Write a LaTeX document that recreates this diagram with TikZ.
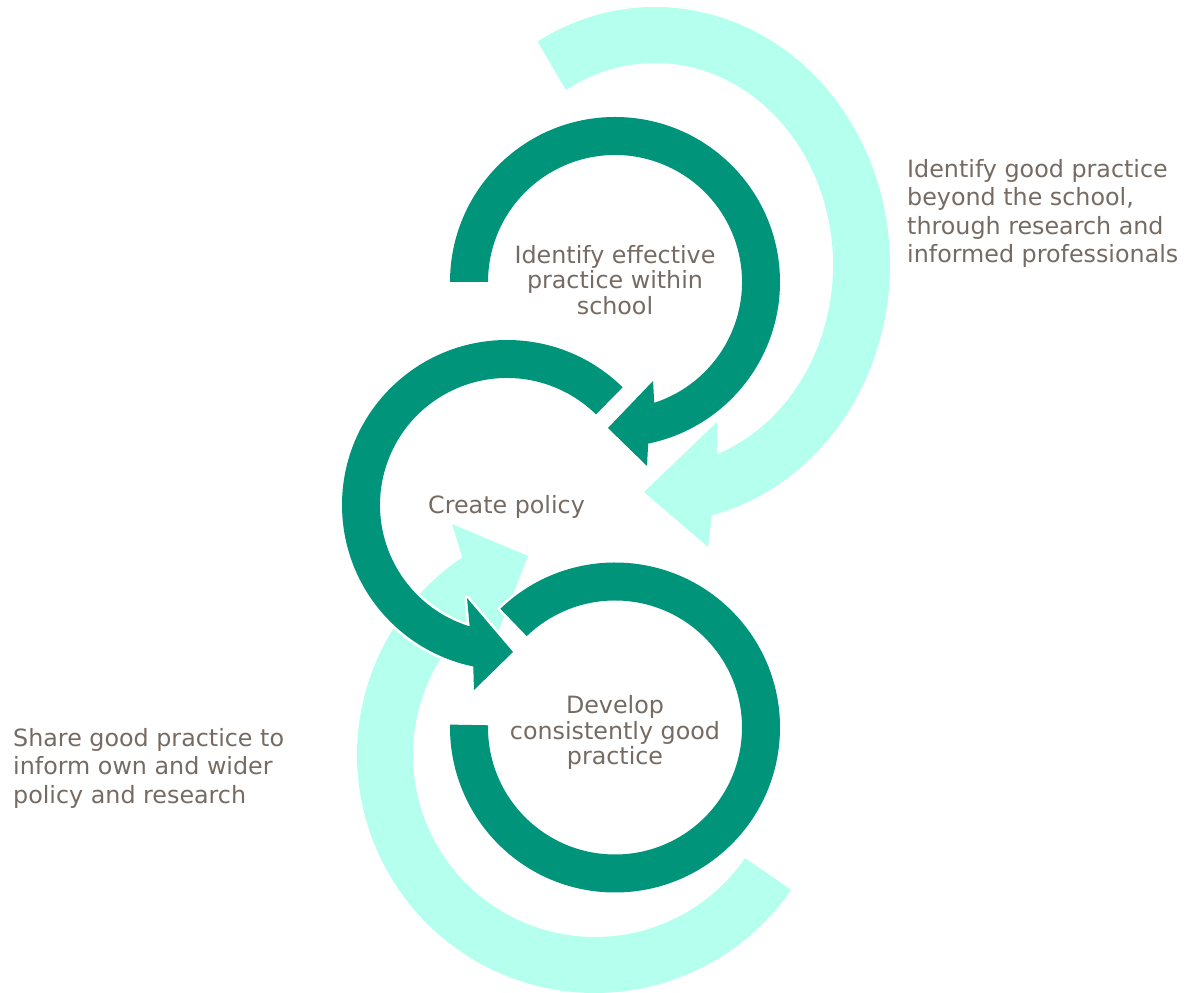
\documentclass[tikz,border=0pt]{standalone}
\usepackage{fontspec}
\setmainfont{DejaVu Sans}
\definecolor{darkteal}{RGB}{0,148,122}
\definecolor{paleteal}{RGB}{181,255,239}
\definecolor{labelgrey}{RGB}{118,107,99}

\begin{document}
\begin{tikzpicture}[x=1pt, y=1pt,
    loop/.style={fill=darkteal, preaction={draw=white, line width=5pt, line join=round}},
    wide/.style={fill=paleteal},
    inlabel/.style={text=labelgrey, align=center, inner sep=0pt, font=\fontsize{23.8}{25.5}\selectfont},
    outlabel/.style={text=labelgrey, align=left, anchor=west, inner sep=0pt, font=\fontsize{23.8}{28.4}\selectfont}]

    \useasboundingbox (0,0) rectangle (1184,993);

    % Centres of the five arrows
    \coordinate (c1) at (615,711);
    \coordinate (c2) at (507,488);
    \coordinate (c3) at (615,265.5);
    \coordinate (ctop) at (655,728);
    \coordinate (cbot) at (595,238);

    % Pale arrow round the top loop
    \fill[wide, shift={(ctop)}] (120:235 and 258) arc[start angle=120, end angle=-76, x radius=235, y radius=258]
        -- (53,-282) -- (-11,-227) -- (62,-157)
        -- (-69.7:178 and 202) arc[start angle=-69.7, end angle=120, x radius=178, y radius=202] -- cycle;

    % Pale arrow round the bottom loop
    \fill[wide, shift={(cbot)}] (-34.5:238) arc[start angle=-34.5, end angle=-236.1, radius=238]
        -- (-143,231) -- (-67,199) -- (-102,110)
        -- (-231.5:182) arc[start angle=-231.5, end angle=-34.5, radius=182] -- cycle;

    % Top loop
    \fill[loop, shift={(c1)}] (180:165) arc[start angle=180, end angle=-78.4, radius=165]
        -- (32,-184) -- (-7,-146) -- (38,-99)
        -- (-72:127) arc[start angle=-72, end angle=180, radius=127] -- cycle;

    % Middle loop
    \fill[loop, shift={(c2)}] (45.5:165) arc[start angle=45.5, end angle=258.2, radius=165]
        -- (-33,-185) -- (6,-147) -- (-40,-93)
        -- (252.9:127) arc[start angle=252.9, end angle=45.5, radius=127] -- cycle;

    % Bottom loop, no head
    \fill[loop, shift={(c3)}] (134:165) arc[start angle=134, end angle=-181, radius=165]
        -- (-181:127) arc[start angle=-181, end angle=134, radius=127] -- cycle;

    % Labels
    \node[inlabel] (within) at (615,713) {Identify effective\\practice within\\school};
    \node[inlabel] (policy) at (506.5,486) {Create policy};
    \node[inlabel] (develop) at (615,260.3) {Develop\\consistently good\\practice};
    \node[outlabel] (beyond) at (907,779.7) {Identify good practice\\beyond the school,\\through research and\\informed professionals};
    \node[outlabel] (share) at (13,224.7) {Share good practice to\\inform own and wider\\policy and research};
\end{tikzpicture}
\end{document}
